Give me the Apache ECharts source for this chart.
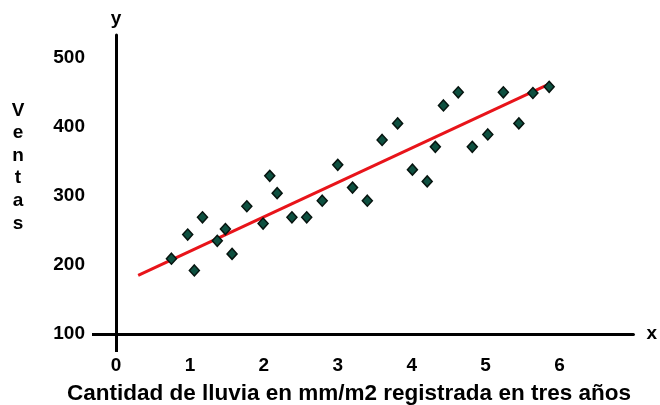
<!DOCTYPE html>
<html>
<head>
<meta charset="utf-8">
<style>html,body{margin:0;padding:0;background:#fff;}#c{width:660px;height:405px;}</style>
<script src="https://cdn.jsdelivr.net/npm/echarts@6/dist/echarts.min.js"></script>
</head>
<body>
<div id="c"></div>
<script>
var lluvia = [0.75, 0.97, 1.06, 1.17, 1.37, 1.48, 1.57, 1.77, 1.99, 2.08, 2.18, 2.38, 2.58, 2.79, 3.00, 3.20, 3.40, 3.60, 3.81, 4.01, 4.21, 4.32, 4.43, 4.63, 4.82, 5.03, 5.24, 5.45, 5.64, 5.86];
var ventas = [209, 244, 192, 269, 235, 252, 216, 285, 260, 329, 304, 269, 269, 293, 345, 312, 293, 381, 405, 338, 321, 371, 431, 450, 371, 389, 450, 405, 449, 458];
var tendenciaX = [0.3, 5.88];
var tendenciaY = [185, 463];
var xTicks = [0, 1, 2, 3, 4, 5, 6];
var yTicks = [100, 200, 300, 400, 500];
var xTitulo = 'Cantidad de lluvia en mm/m2 registrada en tres años';
var yTitulo = 'Ventas';

var puntos = lluvia.map(function (x, i) { return [x, ventas[i]]; });
var linea = tendenciaX.map(function (x, i) { return [x, tendenciaY[i]]; });
var font = 'Liberation Sans, Arial, sans-serif';

var chart = echarts.init(document.getElementById('c'));
chart.setOption({
  animation: false,
  backgroundColor: '#fff',
  title: [{
    text: xTitulo, left: 67, top: 382, padding: 0,
    textStyle: { fontFamily: font, fontWeight: 'bold', fontSize: 22.5, color: '#000' }
  }, {
    text: yTitulo.split('').join('\n'), left: 18, top: 99, padding: 0, textAlign: 'center',
    textStyle: { fontFamily: font, fontWeight: 'bold', fontSize: 19, lineHeight: 22.6, color: '#000' }
  }],
  grid: { left: 116, right: 26, top: 35, bottom: 71, containLabel: false },
  xAxis: {
    type: 'value', min: 0, max: 7, interval: 1,
    name: 'x', nameLocation: 'end', nameGap: 13,
    nameTextStyle: { fontFamily: font, fontWeight: 'bold', fontSize: 19, color: '#000', verticalAlign: 'middle', padding: [0, 0, 4, 0] },
    axisLine: { show: true, onZero: false, lineStyle: { color: '#000', width: 3 } },
    axisTick: { show: true, customValues: [0], length: 18, inside: false, lineStyle: { color: '#000', width: 3 } },
    axisLabel: { customValues: xTicks, margin: 22, fontFamily: font, fontWeight: 'bold', fontSize: 19, color: '#000' },
    splitLine: { show: false }
  },
  yAxis: {
    type: 'value', min: 100, max: 533, interval: 100,
    name: 'y', nameLocation: 'end', nameGap: 7,
    nameTextStyle: { fontFamily: font, fontWeight: 'bold', fontSize: 19, color: '#000', align: 'center' },
    axisLine: { show: true, onZero: false, lineStyle: { color: '#000', width: 3 } },
    axisTick: { show: true, customValues: [100], length: 24, inside: false, lineStyle: { color: '#000', width: 3 } },
    axisLabel: { customValues: yTicks, margin: 31, fontFamily: font, fontWeight: 'bold', fontSize: 19, color: '#000' },
    splitLine: { show: false }
  },
  series: [{
    type: 'line', data: linea, symbol: 'none', z: 2,
    lineStyle: { color: '#e8141a', width: 3 }
  }, {
    type: 'scatter', data: puntos, symbol: 'diamond', symbolSize: [10, 11], z: 3,
    itemStyle: { color: '#0e5040', borderColor: '#06140f', borderWidth: 1.5, opacity: 1 }
  }]
});
</script>
</body>
</html>
